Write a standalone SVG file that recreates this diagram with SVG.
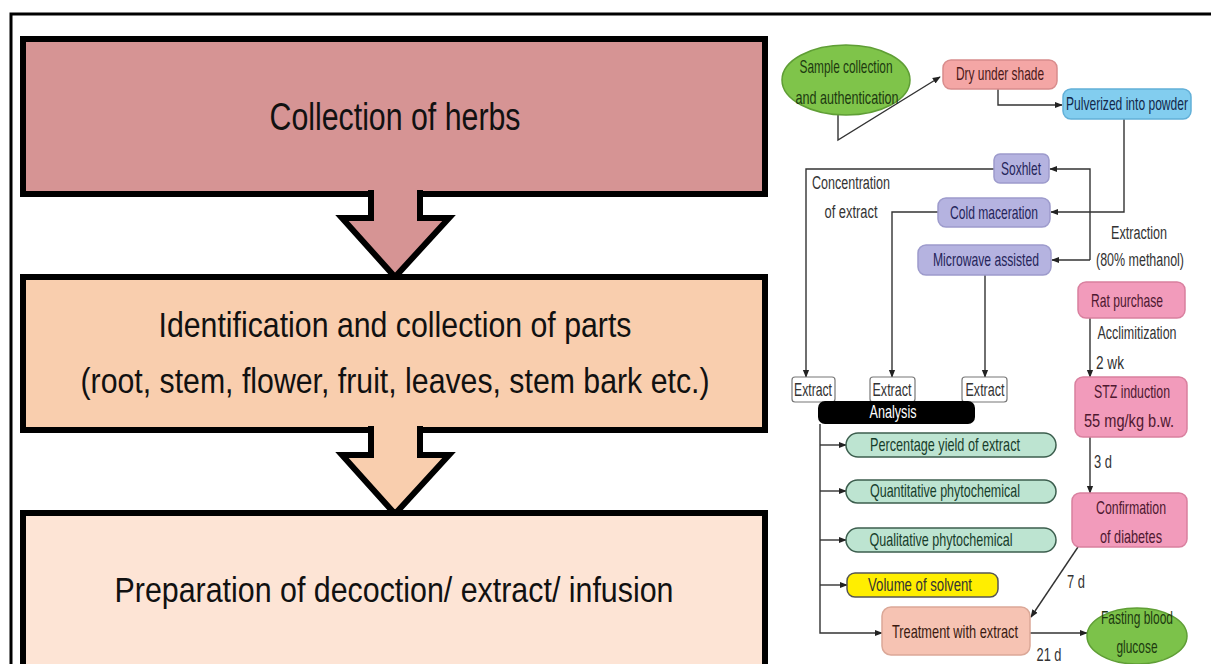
<svg xmlns="http://www.w3.org/2000/svg" width="1211" height="664" viewBox="0 0 1211 664">
<style>
.big{font-family:"Liberation Sans",Arial,sans-serif;fill:#111;text-anchor:middle}
.t{font-family:"Liberation Sans",Arial,sans-serif;font-size:19px;text-anchor:middle}
.lb{font-family:"Liberation Sans",Arial,sans-serif;font-size:18px;text-anchor:middle;fill:#333}
.blk{stroke:#000;stroke-width:6;stroke-linejoin:miter}
.c{fill:none;stroke:#333;stroke-width:1.4}
.purple{fill:#b5b3e0;stroke:#9d9bcc;stroke-width:1.5}
.pink{fill:#f29bbb;stroke:#d9809f;stroke-width:1.5}
.mint{fill:#bde4d1;stroke:#3c5e4e;stroke-width:1.5}
</style>
<defs>
<marker id="ah" viewBox="0 0 10 10" refX="9" refY="5" markerWidth="8" markerHeight="8" markerUnits="userSpaceOnUse" orient="auto">
<path d="M0,1 L10,5 L0,9 Z" fill="#222"/>
</marker>
</defs>
<rect width="1211" height="664" fill="#fff"/>
<path d="M11,664 V14 H1211" fill="none" stroke="#000" stroke-width="3"/>

<g id="left-flow">
<g id="box1">
<rect x="23" y="39" width="742" height="155" fill="#d69494" class="blk"/>
<path d="M371,190 V218 H342 L395,277 L449,218 H420 V190" fill="#d69494" class="blk"/>
<text class="big" x="395" y="130" font-size="38" textLength="251" lengthAdjust="spacingAndGlyphs">Collection of herbs</text>
</g>
<g id="box2">
<rect x="23" y="277" width="742" height="153" fill="#f9ceae" class="blk"/>
<path d="M371,426 V455 H342 L395,514 L449,455 H420 V426" fill="#f9ceae" class="blk"/>
<text class="big" x="395" y="337" font-size="35" textLength="473" lengthAdjust="spacingAndGlyphs">Identification and collection of parts</text>
<text class="big" x="395" y="393" font-size="35" textLength="629" lengthAdjust="spacingAndGlyphs">(root, stem, flower, fruit, leaves, stem bark etc.)</text>
</g>
<g id="box3">
<rect x="23" y="513" width="742" height="160" fill="#fde4d5" class="blk"/>
<text class="big" x="394" y="602" font-size="35" textLength="559" lengthAdjust="spacingAndGlyphs">Preparation of decoction/ extract/ infusion</text>
</g>
</g>

<g id="connectors">
<path class="c" d="M838,115 V140 L940,77" marker-end="url(#ah)"/>
<path class="c" d="M998,89 V105 H1062" marker-end="url(#ah)"/>
<path class="c" d="M1124,119 V212 H1051" marker-end="url(#ah)"/>
<path class="c" d="M1090,260 V169 H1050" marker-end="url(#ah)"/>
<path class="c" d="M1090,260 H1052" marker-end="url(#ah)"/>
<path class="c" d="M994,169 H806 V377" marker-end="url(#ah)"/>
<path class="c" d="M938,212 H892 V377" marker-end="url(#ah)"/>
<path class="c" d="M985,275 V377" marker-end="url(#ah)"/>
<path class="c" d="M1090,318 V377" marker-end="url(#ah)"/>
<path class="c" d="M1090,437 V493" marker-end="url(#ah)"/>
<path class="c" d="M820,424 V633 H882" marker-end="url(#ah)"/>
<path class="c" d="M820,445 H846" marker-end="url(#ah)"/>
<path class="c" d="M820,491 H846" marker-end="url(#ah)"/>
<path class="c" d="M820,540 H846" marker-end="url(#ah)"/>
<path class="c" d="M820,585 H847" marker-end="url(#ah)"/>
<path class="c" d="M1078,547 L1031,617" marker-end="url(#ah)"/>
<path class="c" d="M1030,633 H1087" marker-end="url(#ah)"/>
<text class="lb" x="851" y="189" textLength="78" lengthAdjust="spacingAndGlyphs">Concentration</text>
<text class="lb" x="851" y="218" textLength="53" lengthAdjust="spacingAndGlyphs">of extract</text>
<text class="lb" x="1139" y="239" textLength="56" lengthAdjust="spacingAndGlyphs">Extraction</text>
<text class="lb" x="1140" y="266" textLength="88" lengthAdjust="spacingAndGlyphs">(80% methanol)</text>
<text class="lb" x="1137" y="339" textLength="79" lengthAdjust="spacingAndGlyphs">Acclimitization</text>
<text class="lb" x="1110" y="369" textLength="28" lengthAdjust="spacingAndGlyphs">2 wk</text>
<text class="lb" x="1103" y="468" textLength="18" lengthAdjust="spacingAndGlyphs">3 d</text>
<text class="lb" x="1076" y="588" textLength="18" lengthAdjust="spacingAndGlyphs">7 d</text>
<text class="lb" x="1049" y="661" textLength="25" lengthAdjust="spacingAndGlyphs">21 d</text>
</g>

<g id="sample">
<ellipse cx="846" cy="80" rx="64" ry="35" fill="#7fc44a" stroke="#5f9e35" stroke-width="1.5"/>
<text class="t" x="846" y="73" fill="#1d3a10" textLength="93" lengthAdjust="spacingAndGlyphs">Sample collection</text>
<text class="t" x="847" y="104" fill="#1d3a10" textLength="103" lengthAdjust="spacingAndGlyphs">and authentication</text>
</g>
<g id="dry">
<rect x="943" y="60" width="114" height="29" rx="8" fill="#f4a6a5" stroke="#d88c8c" stroke-width="1.5"/>
<text class="t" x="1000" y="80" fill="#4a1818" textLength="88" lengthAdjust="spacingAndGlyphs">Dry under shade</text>
</g>
<g id="pulverized">
<rect x="1063" y="89" width="128" height="30" rx="8" fill="#82cdef" stroke="#62b0d8" stroke-width="1.5"/>
<text class="t" x="1127" y="110" fill="#12284a" textLength="122" lengthAdjust="spacingAndGlyphs">Pulverized into powder</text>
</g>
<g id="soxhlet">
<rect x="994" y="154" width="55" height="29" rx="6" class="purple"/>
<text class="t" x="1021" y="175" fill="#25255a" textLength="40" lengthAdjust="spacingAndGlyphs">Soxhlet</text>
</g>
<g id="cold">
<rect x="938" y="198" width="112" height="29" rx="8" class="purple"/>
<text class="t" x="994" y="219" fill="#25255a" textLength="88" lengthAdjust="spacingAndGlyphs">Cold maceration</text>
</g>
<g id="microwave">
<rect x="918" y="245" width="133" height="30" rx="8" class="purple"/>
<text class="t" x="986" y="266" fill="#25255a" textLength="106" lengthAdjust="spacingAndGlyphs">Microwave assisted</text>
</g>
<g id="rat">
<rect x="1078" y="282" width="107" height="36" rx="8" class="pink"/>
<text class="t" x="1127" y="307" fill="#4e1830" textLength="72" lengthAdjust="spacingAndGlyphs">Rat purchase</text>
</g>
<g id="extract1">
<rect x="792" y="377" width="43" height="25" rx="3" fill="#fff" stroke="#777" stroke-width="1.2"/>
<text class="t" x="813" y="396" fill="#333" textLength="38" lengthAdjust="spacingAndGlyphs">Extract</text>
</g>
<g id="extract2">
<rect x="870" y="377" width="45" height="25" rx="3" fill="#fff" stroke="#777" stroke-width="1.2"/>
<text class="t" x="892" y="396" fill="#333" textLength="39" lengthAdjust="spacingAndGlyphs">Extract</text>
</g>
<g id="extract3">
<rect x="962" y="377" width="45" height="25" rx="3" fill="#fff" stroke="#777" stroke-width="1.2"/>
<text class="t" x="985" y="396" fill="#333" textLength="39" lengthAdjust="spacingAndGlyphs">Extract</text>
</g>
<g id="analysis">
<rect x="818" y="401" width="157" height="23" rx="7" fill="#000"/>
<text class="t" x="893" y="418" fill="#fff" textLength="47" lengthAdjust="spacingAndGlyphs">Analysis</text>
</g>
<g id="stz">
<rect x="1075" y="377" width="112" height="60" rx="8" class="pink"/>
<text class="t" x="1132" y="398" fill="#4e1830" textLength="76" lengthAdjust="spacingAndGlyphs">STZ induction</text>
<text class="t" x="1129" y="427" fill="#4e1830" textLength="90" lengthAdjust="spacingAndGlyphs">55 mg/kg b.w.</text>
</g>
<g id="percentage">
<rect x="846" y="433" width="210" height="24" rx="12" class="mint"/>
<text class="t" x="945" y="451" fill="#173d2b" textLength="150" lengthAdjust="spacingAndGlyphs">Percentage yield of extract</text>
</g>
<g id="quantitative">
<rect x="846" y="480" width="210" height="23" rx="11.5" class="mint"/>
<text class="t" x="945" y="497" fill="#173d2b" textLength="150" lengthAdjust="spacingAndGlyphs">Quantitative phytochemical</text>
</g>
<g id="confirmation">
<rect x="1072" y="493" width="115" height="54" rx="8" class="pink"/>
<text class="t" x="1131" y="514" fill="#4e1830" textLength="70" lengthAdjust="spacingAndGlyphs">Confirmation</text>
<text class="t" x="1131" y="543" fill="#4e1830" textLength="62" lengthAdjust="spacingAndGlyphs">of diabetes</text>
</g>
<g id="qualitative">
<rect x="846" y="528" width="210" height="24" rx="12" class="mint"/>
<text class="t" x="941" y="546" fill="#173d2b" textLength="143" lengthAdjust="spacingAndGlyphs">Qualitative phytochemical</text>
</g>
<g id="volume">
<rect x="847" y="573" width="151" height="24" rx="8" fill="#ffee00" stroke="#555" stroke-width="1.5"/>
<text class="t" x="920" y="591" fill="#333" textLength="104" lengthAdjust="spacingAndGlyphs">Volume of solvent</text>
</g>
<g id="treatment">
<rect x="882" y="607" width="148" height="48" rx="9" fill="#f6c3b3" stroke="#dba898" stroke-width="1.5"/>
<text class="t" x="955" y="638" fill="#3a1a10" textLength="126" lengthAdjust="spacingAndGlyphs">Treatment with extract</text>
</g>
<g id="fasting">
<ellipse cx="1137" cy="636" rx="50" ry="28" fill="#7cc24a" stroke="#5f9e35" stroke-width="1.5"/>
<text class="t" x="1137" y="624" fill="#1d3a10" textLength="72" lengthAdjust="spacingAndGlyphs">Fasting blood</text>
<text class="t" x="1137" y="653" fill="#1d3a10" textLength="41" lengthAdjust="spacingAndGlyphs">glucose</text>
</g>
</svg>
